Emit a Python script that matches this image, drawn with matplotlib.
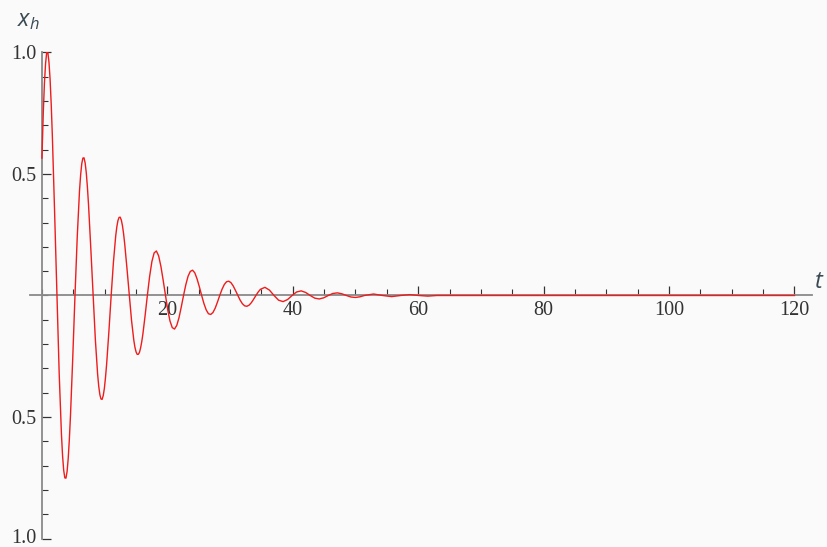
import numpy as np
import matplotlib
matplotlib.use("Agg")
import matplotlib.pyplot as plt
from matplotlib.ticker import MultipleLocator
from matplotlib.transforms import ScaledTranslation

t = [0.00, 0.22, 0.40, 0.58, 0.76, 0.94, 1.12, 1.30, 1.48, 1.66, 2.02, 2.39, 2.75, 3.11, 3.29, 3.47, 3.65, 3.83,
     4.01, 4.19, 4.37, 4.55, 4.91, 5.27, 5.63,
     5.99, 6.17, 6.35, 6.53, 6.71, 6.89, 7.07, 7.25, 7.43, 7.79, 8.16, 8.52, 8.88, 9.06, 9.24, 9.42, 9.60, 9.78,
     9.96, 10.14, 10.32, 10.68, 11.04, 11.40,
     11.76, 11.94, 12.12, 12.30, 12.48, 12.66, 12.84, 13.02, 13.20, 13.56, 13.93, 14.29, 14.65, 14.83, 15.01, 15.19,
     15.37, 15.55, 15.73, 15.91, 16.09, 16.45, 16.81, 17.17,
     17.53, 17.89, 18.25, 18.61, 18.97, 19.33, 19.70, 20.06, 20.42, 20.78, 21.14, 21.50, 21.86, 22.22, 22.58, 22.94,
     23.30, 23.66, 24.02, 24.38, 24.74, 25.10, 25.47, 25.83, 26.19, 26.55, 26.91, 27.27, 27.63, 27.99, 28.35, 28.71,
     29.07, 29.43, 29.79, 30.15, 30.51, 30.87, 31.24, 31.60, 31.96, 32.32, 32.68, 33.04, 33.40, 33.76, 34.12, 34.48,
     34.84, 35.56, 36.28, 37.01, 37.73, 38.45, 39.17, 39.89,
     40.61, 41.33, 42.05, 42.78, 43.50, 44.22, 44.94, 45.66,
     46.38, 47.10, 47.82, 48.55, 49.27, 49.99, 50.71, 51.43,
     52.87, 54.32, 55.76, 57.20, 58.64, 60.09, 61.53, 62.97, 120.0]
xh = [0.565, 0.756, 0.874, 0.954, 1.0, 1.0, 0.960, 0.889, 0.786, 0.657, 0.343, 0.0, -0.320, -0.570, -0.659, -0.719,
      -0.750, -0.751, -0.724, -0.670, -0.592, -0.495, -0.259, 0.0, 0.241,
      0.430, 0.496, 0.542, 0.565, 0.566, 0.545, 0.505, 0.446, 0.373, 0.195, 0.0, -0.182, -0.324, -0.374, -0.408,
      -0.426, -0.427, -0.411, -0.381, -0.336, -0.281, -0.147, 0.0, 0.137,
      0.244, 0.282, 0.308, 0.321, 0.322, 0.310, 0.287, 0.254, 0.212, 0.111, 0.0, -0.103, -0.184, -0.213, -0.232,
      -0.242, -0.242, -0.234, -0.216, -0.191, -0.160, -0.083, 0.0, 0.078,
      0.139, 0.175, 0.183, 0.163, 0.120, 0.063, 0.0, -0.059, -0.105, -0.132, -0.138, -0.123, -0.091, -0.047, 0.0, 0.044,
      0.079, 0.099, 0.104, 0.093, 0.068, 0.036, 0.0, -0.033, -0.059, -0.075, -0.078, -0.070, -0.052, -0.027, 0.0, 0.025,
      0.0447, 0.0564, 0.0589, 0.0525, 0.0388, 0.0203, 0.0, -0.0189, -0.0337, -0.0425, -0.0444, -0.0396, -0.0293, -0.0153, 0.0, 0.0142,
      0.0254, 0.0335, 0.0221, 0.0, -0.0192, -0.0252, -0.0166, 0.0,
      0.0144, 0.0190, 0.0125, 0.0, -0.0109, -0.0143, -0.0095, 0.0,
      0.0082, 0.0108, 0.0071, 0.0, -0.0062, -0.0081, -0.0054, 0.0,
      0.0061, 0.0, -0.0046, 0.0, 0.0035, 0.0, -0.0026, 0.0, 0.0]

xticks = [20, 40, 60, 80, 100, 120]
yticks = [-1.0, -0.5, 0.5, 1.0]
ylabels = ["1.0", "0.5", "0.5", "1.0"]  # minus signs missing in the original

plt.rcParams['mathtext.fontset'] = 'custom'
plt.rcParams['mathtext.it'] = 'Open Sans:italic'
plt.rcParams['mathtext.rm'] = 'Open Sans'

fig = plt.figure(figsize=(8.27, 5.47), dpi=100, facecolor='#fafafa')
ax = fig.add_axes([0.0363, 0.0152, 0.9456, 0.8892])
ax.set_facecolor('#fafafa')

ax.plot(t, xh, color='#ee1c1c', lw=1.0, zorder=3)

ax.set_xlim(-1.9, 122.8)
ax.set_ylim(-1.0, 1.0)

# axes through the origin, Mathematica style
for s in ['top', 'right']:
    ax.spines[s].set_visible(False)
ax.spines['left'].set_position(('data', 0))
ax.spines['bottom'].set_position(('data', 0))
for s in ['left', 'bottom']:
    ax.spines[s].set_color('#8a8a8a')
    ax.spines[s].set_linewidth(1.3)

ax.set_xticks(xticks)
ax.set_xticklabels([str(v) for v in xticks])
ax.xaxis.set_minor_locator(MultipleLocator(5))
ax.set_yticks(yticks)
ax.set_yticklabels(ylabels)
ax.yaxis.set_minor_locator(MultipleLocator(0.1))

ax.tick_params(which='major', direction='in', length=6.5, width=0.9, color='#333333', labelsize=14.5,
               labelcolor='#333333', pad=4)
ax.tick_params(which='minor', direction='in', length=4, width=0.8, color='#333333')
for lab in ax.get_xticklabels() + ax.get_yticklabels():
    lab.set_family('Liberation Serif')

# lift the bottom label a little so it stays inside the figure
bottom_lab = ax.yaxis.get_major_ticks()[0].label1
bottom_lab.set_transform(bottom_lab.get_transform() + ScaledTranslation(0, 0.03, fig.dpi_scale_trans))

# axis labels
fig.text(0.020, 0.952, r'$x_h$', fontsize=17, color='#3b4a52')
fig.text(0.984, 0.474, r'$t$', fontsize=17, color='#3b4a52')

plt.savefig('out.png', dpi=100, facecolor=fig.get_facecolor())
